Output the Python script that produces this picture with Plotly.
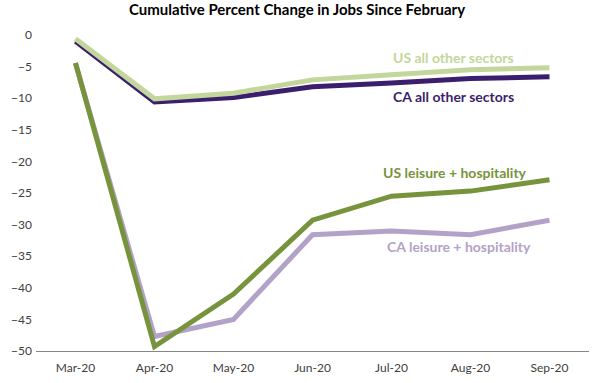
import plotly.graph_objects as go

months = ["Mar-20", "Apr-20", "May-20", "Jun-20", "Jul-20", "Aug-20", "Sep-20"]
us_other = [-0.6, -10.1, -9.2, -7.1, -6.3, -5.5, -5.2]
ca_other = [-1.0, -10.6, -9.9, -8.2, -7.6, -6.9, -6.6]
us_leisure = [-4.4, -49.3, -41.0, -29.3, -25.5, -24.7, -22.9]
ca_leisure = [-4.5, -47.7, -45.0, -31.6, -31.0, -31.6, -29.3]
y_ticks = [0, -5, -10, -15, -20, -25, -30, -35, -40, -45, -50]

series = [
    ("CA all other sectors", ca_other, "#3B1F6E"),
    ("US all other sectors", us_other, "#C3D69B"),
    ("CA leisure + hospitality", ca_leisure, "#B3A2C7"),
    ("US leisure + hospitality", us_leisure, "#77933C"),
]

fig = go.Figure()
for name, vals, col in series:
    fig.add_trace(go.Scatter(x=months, y=vals, mode="lines", name=name,
                             line=dict(color=col, width=5)))

labels = [
    ("US all other sectors", 4.78, -3.5, "#C3D69B"),
    ("CA all other sectors", 4.78, -9.8, "#3B1F6E"),
    ("US leisure + hospitality", 4.8, -21.7, "#77933C"),
    ("CA leisure + hospitality", 4.85, -33.4, "#B3A2C7"),
]
for txt, x, y, col in labels:
    fig.add_annotation(x=x, y=y, xref="x", yref="y", text="<b>" + txt + "</b>",
                       showarrow=False, font=dict(family="Lato", size=14, color=col))

fig.update_layout(
    width=594, height=383,
    margin=dict(l=36, r=5, t=35, b=32, autoexpand=False),
    paper_bgcolor="white", plot_bgcolor="white",
    showlegend=False,
    title=dict(text="<b>Cumulative Percent Change in Jobs Since February</b>",
               x=0.5, xanchor="center", xref="container", y=0.974, yanchor="middle",
               font=dict(family="Lato", size=15, color="#000000")),
    font=dict(family="Lato", size=12, color="#404040"),
)
fig.update_xaxes(type="category", range=[-0.5, 6.5], showline=True, linecolor="#868686",
                 linewidth=1, showgrid=False, ticks="", automargin=False,
                 ticklabelstandoff=6, tickfont=dict(size=12, color="#404040"))
fig.update_yaxes(range=[-50, 0], tickvals=y_ticks, showgrid=False, zeroline=False,
                 showline=False, ticks="", automargin=False,
                 ticklabelstandoff=3, tickfont=dict(size=12, color="#404040"))

fig.write_html("out.html", config={"displayModeBar": False},
               post_script="document.body.style.margin='0';")
